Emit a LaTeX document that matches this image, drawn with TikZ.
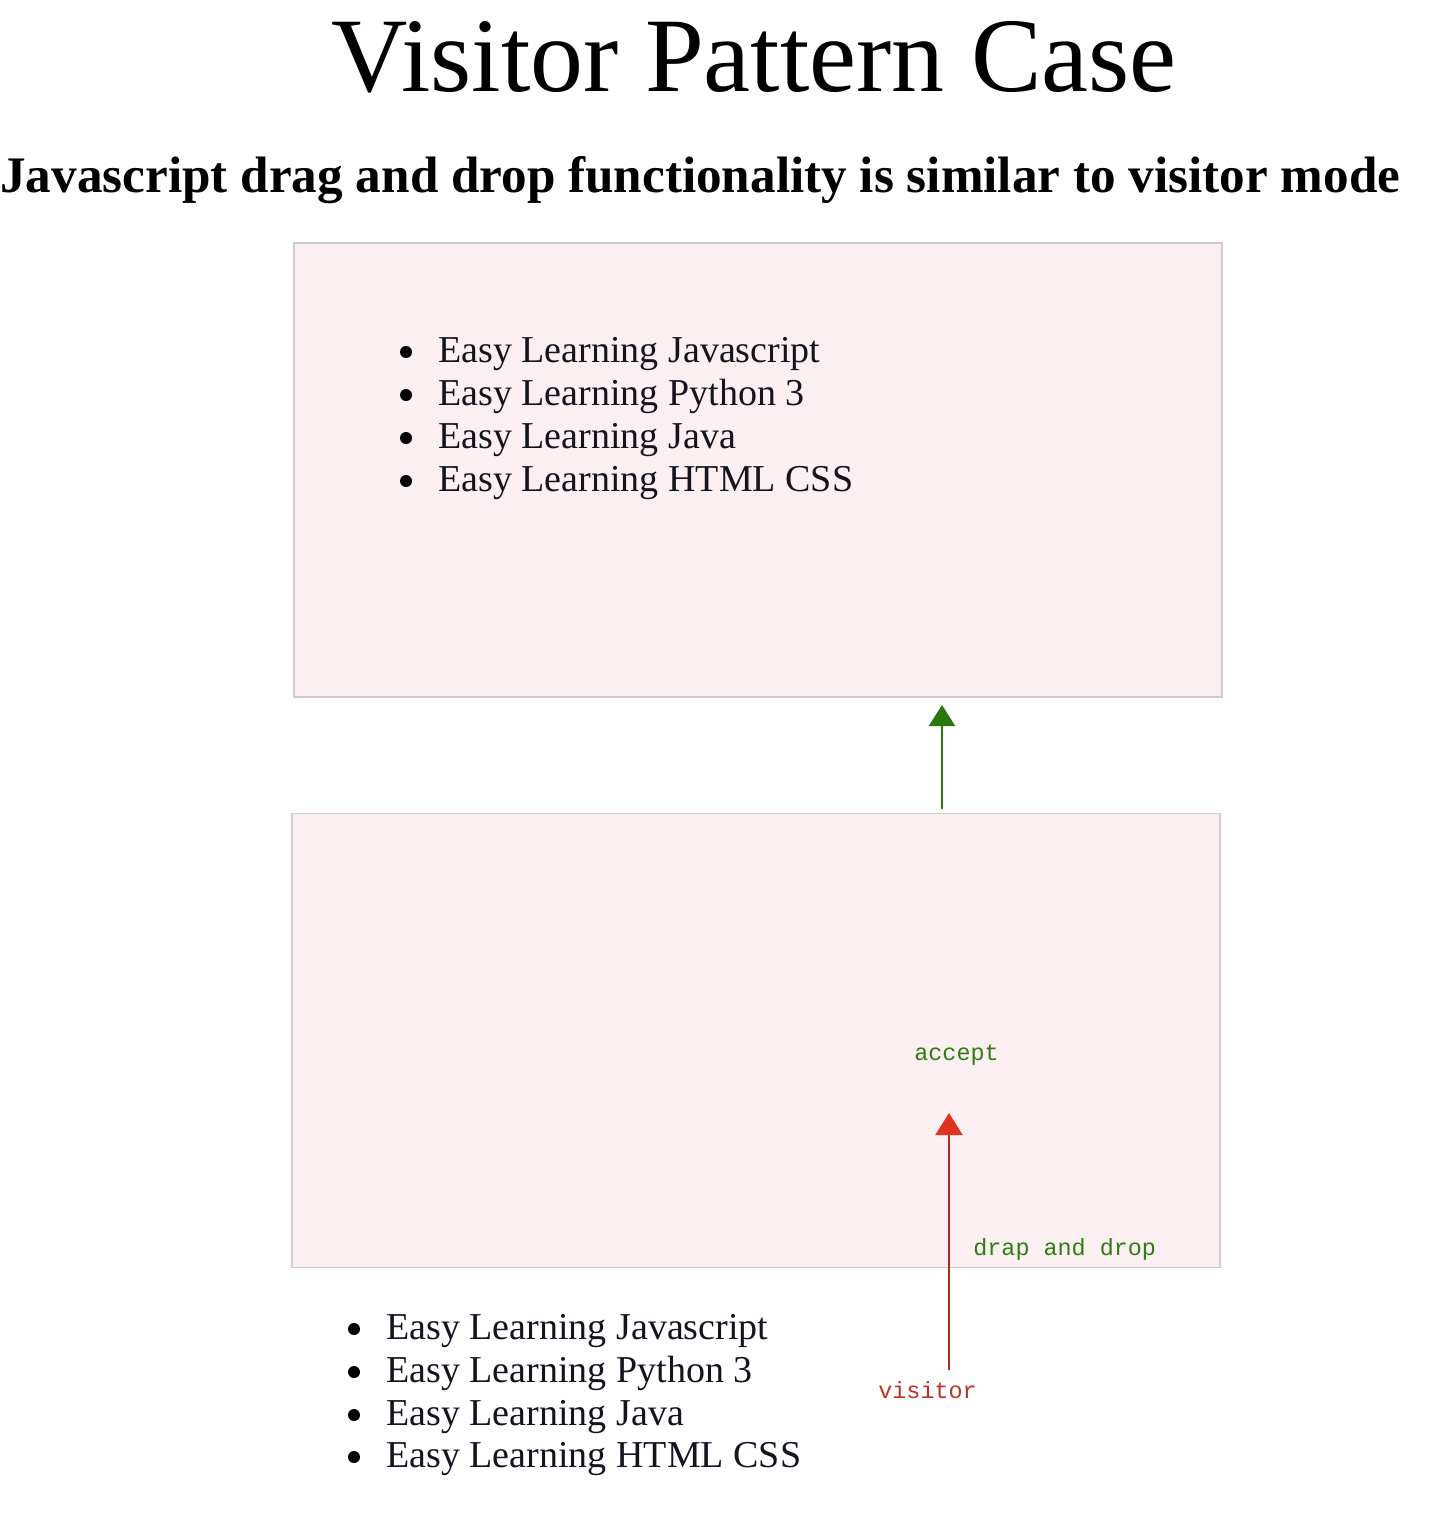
\documentclass[tikz,border=0pt]{standalone}
\usepackage{fontspec}
\setmainfont{Liberation Serif}
\newfontfamily\labelfont{Liberation Mono}
\usetikzlibrary{arrows.meta}
\definecolor{boxfill}{RGB}{252,239,242}
\definecolor{boxline}{RGB}{204,204,204}
\definecolor{acceptgreen}{RGB}{46,125,20}
\definecolor{arrowgreen}{RGB}{40,120,10}
\definecolor{redline}{RGB}{176,40,32}
\definecolor{redhead}{RGB}{224,50,30}
\definecolor{redtext}{RGB}{192,48,42}
\definecolor{listtext}{RGB}{20,20,30}
\tikzset{
  panel/.style={draw=boxline, line width=0.8pt, fill=boxfill, minimum width=464pt, minimum height=227pt, inner sep=0pt},
  item/.style={anchor=base west, inner sep=0pt, text=listtext, font=\fontsize{19}{22}\selectfont},
  bul/.style={circle, fill=black, minimum size=6pt, inner sep=0pt},
  lab/.style={anchor=base west, inner sep=0pt, font=\labelfont\fontsize{11.7}{14}\selectfont},
  greenarrow/.style={draw=arrowgreen, line width=1.2pt, -{Triangle[width=13pt,length=10.5pt]}, arrowgreen},
  redarrow/.style={draw=redline, line width=1pt, -{Triangle[width=13.5pt,length=11pt,color=redhead]}}
}
\begin{document}
\begin{tikzpicture}[x=0.5pt,y=-0.5pt]
\useasboundingbox (0,0) rectangle (1432,1520);
\fill[white] (0,0) rectangle (1432,1520);
% titles
\node[anchor=base, inner sep=0pt, font=\fontsize{52.9}{60}\selectfont] (title) at (754,92) {Visitor Pattern Case};
\node[anchor=base west, inner sep=0pt, font=\bfseries\fontsize{25.6}{30}\selectfont] (subtitle) at (0,192) {Javascript drag and drop functionality is similar to visitor mode};
% panels
\node[panel] (box1) at (758,470) {};
\node[panel] (box2) at (756,1040.5) {};
% list in box 1
\node[bul] (b1a) at (406,352) {};
\node[item] (t1a) at (438,362) {Easy Learning Javascript};
\node[bul] (b1b) at (406,395) {};
\node[item] (t1b) at (438,405) {Easy Learning Python 3};
\node[bul] (b1c) at (406,438) {};
\node[item] (t1c) at (438,448) {Easy Learning Java};
\node[bul] (b1d) at (406,481) {};
\node[item] (t1d) at (438,491) {Easy Learning HTML CSS};
% list below box 2
\node[bul] (b2a) at (354,1329) {};
\node[item] (t2a) at (386,1339) {Easy Learning Javascript};
\node[bul] (b2b) at (354,1372) {};
\node[item] (t2b) at (386,1382) {Easy Learning Python 3};
\node[bul] (b2c) at (354,1415) {};
\node[item] (t2c) at (386,1425) {Easy Learning Java};
\node[bul] (b2d) at (354,1457) {};
\node[item] (t2d) at (386,1467) {Easy Learning HTML CSS};
% labels
\node[lab, text=acceptgreen] (accept) at (914,1060) {accept};
\node[lab, text=acceptgreen] (dnd) at (973,1255) {drap and drop};
\node[lab, text=redtext] (visitor) at (878,1398) {visitor};
% arrows
\coordinate (gstart) at (942,809);
\coordinate (gtip) at (942,705);
\draw[greenarrow] (gstart) -- (gtip);
\coordinate (rstart) at (949,1370);
\coordinate (rtip) at (949,1113);
\draw[redarrow] (rstart) -- (rtip);
\end{tikzpicture}
\end{document}
